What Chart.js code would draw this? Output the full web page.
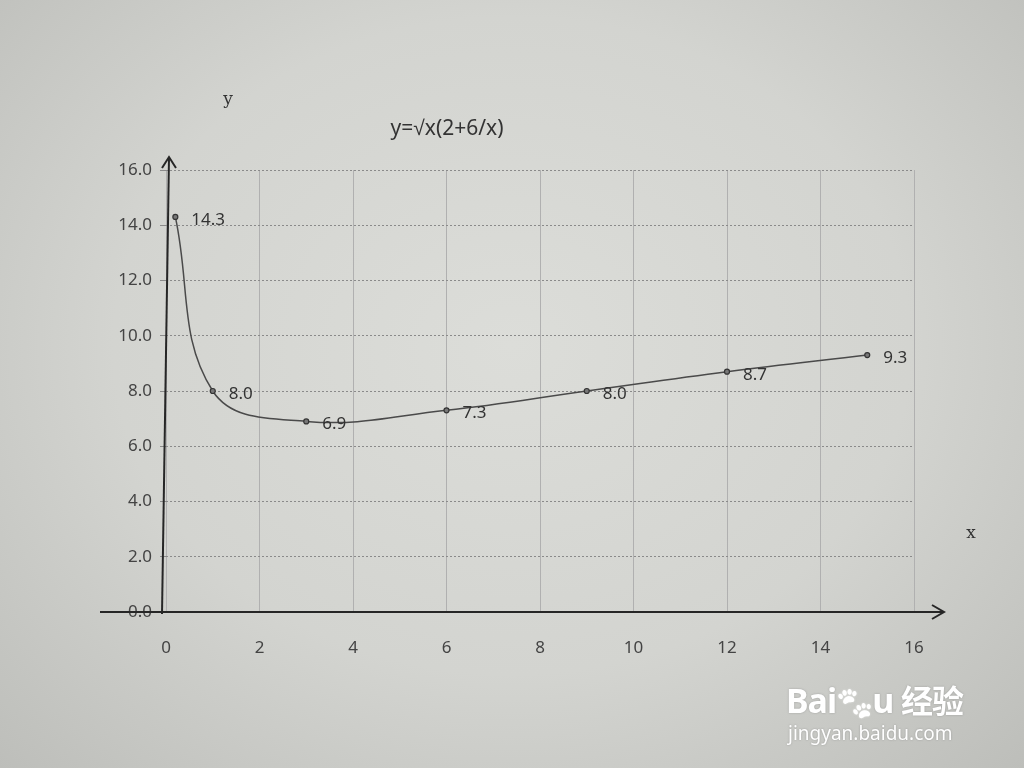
<!DOCTYPE html>
<html>
<head>
<meta charset="utf-8">
<script src="https://cdn.jsdelivr.net/npm/chart.js@4.4.0/dist/chart.umd.min.js"></script>
<style>
  html, body { margin: 0; padding: 0; }
  body {
    width: 1024px; height: 768px; overflow: hidden; position: relative;
    background: radial-gradient(ellipse at 50% 45%, #dcddd9 0%, #d3d4d0 55%, #bdbeba 100%);
  }
  #wrap { position: absolute; left: 0; top: 0; width: 1024px; height: 768px; }
  .wm { position: absolute; color: #ffffff; font-family: "Noto Sans", sans-serif; text-shadow: 0 0 2px rgba(120,120,120,0.6); }
  .paw { display: inline-block; filter: grayscale(1) brightness(4); font-size: 30px; }
</style>
</head>
<body>
<div id="wrap"><canvas id="c" width="1024" height="768"></canvas></div>
<div class="wm" style="left:786px; top:676px; font-size:34px; font-weight:bold; letter-spacing:-1px;">Bai<span class="paw">🐾</span>u <span style="font-family:'Noto Sans CJK SC'; font-size:32px;">经验</span></div>
<div class="wm" style="left:788px; top:720px; font-size:19px;">jingyan.baidu.com</div>
<script>
const xValues = [0.2, 1, 3, 6, 9, 12, 15];
const yValues = [14.3, 8.0, 6.9, 7.3, 8.0, 8.7, 9.3];
const pointLabels = ["14.3", "8.0", "6.9", "7.3", "8.0", "8.7", "9.3"];
const chartTitle = "y=√x(2+6/x)";
const xAxisName = "x";
const yAxisName = "y";

const points = xValues.map((x, i) => ({ x: x, y: yValues[i] }));

const decorPlugin = {
  id: 'decor',
  afterDatasetsDraw(chart) {
    const ctx = chart.ctx;
    const xs = chart.scales.x, ys = chart.scales.y;
    const x0 = xs.getPixelForValue(0), y0 = ys.getPixelForValue(0);
    const xEnd = xs.getPixelForValue(16), yTop = ys.getPixelForValue(16);
    ctx.save();
    ctx.strokeStyle = '#262626';
    ctx.lineWidth = 2;
    ctx.beginPath();
    ctx.moveTo(100, y0);
    ctx.lineTo(xEnd + 30, y0);
    ctx.stroke();
    ctx.beginPath();
    ctx.moveTo(xEnd + 18, y0 - 7);
    ctx.lineTo(xEnd + 30, y0);
    ctx.lineTo(xEnd + 18, y0 + 7);
    ctx.stroke();
    ctx.beginPath();
    ctx.moveTo(x0 - 4, y0 + 2);
    ctx.lineTo(x0 + 3, yTop - 13);
    ctx.stroke();
    ctx.beginPath();
    ctx.moveTo(x0 - 4, yTop - 2);
    ctx.lineTo(x0 + 3, yTop - 13);
    ctx.lineTo(x0 + 10, yTop - 2);
    ctx.stroke();
    ctx.fillStyle = '#333';
    ctx.font = '17px "Noto Sans", sans-serif';
    ctx.textAlign = 'left';
    ctx.textBaseline = 'middle';
    const meta = chart.getDatasetMeta(0);
    meta.data.forEach((pt, i) => {
      ctx.fillText(pointLabels[i], pt.x + 16, pt.y + 3);
    });
    ctx.fillStyle = '#333';
    ctx.font = '21px "Noto Sans", sans-serif';
    ctx.textAlign = 'center';
    ctx.fillText(chartTitle, 447, 129);
    ctx.font = '17px "DejaVu Serif", "Liberation Serif", serif';
    ctx.fillText(yAxisName, 228, 100);
    ctx.fillText(xAxisName, 971, 534);
    ctx.restore();
  }
};

new Chart(document.getElementById('c'), {
  type: 'scatter',
  data: {
    datasets: [{
      data: points,
      showLine: true,
      tension: 0.4,
      borderColor: '#4a4a4a',
      borderWidth: 1.5,
      pointRadius: 2.5,
      pointBackgroundColor: '#777',
      pointBorderColor: '#333',
      pointBorderWidth: 1.2
    }]
  },
  options: {
    responsive: false,
    animation: false,
    layout: { padding: { left: 0, top: 170, right: 110, bottom: 0 } },
    plugins: { legend: { display: false }, tooltip: { enabled: false } },
    scales: {
      x: {
        type: 'linear', min: 0, max: 16,
        afterFit(s) { s.height = 156; },
        border: { display: false },
        grid: { color: '#b0b0b0', lineWidth: 1, tickLength: 0 },
        ticks: { stepSize: 2, padding: 26, color: '#444', font: { size: 17, family: '"Noto Sans", sans-serif' } }
      },
      y: {
        type: 'linear', min: 0, max: 16,
        afterFit(s) { s.width = 166; },
        border: { display: false, dash: [2, 2] },
        grid: { color: '#8a8a8a', lineWidth: 1, tickLength: 6 },
        ticks: { stepSize: 2, padding: 8, color: '#444', font: { size: 17, family: '"Noto Sans", sans-serif' },
                 callback: v => v.toFixed(1) }
      }
    }
  },
  plugins: [decorPlugin]
});
</script>
</body>
</html>
